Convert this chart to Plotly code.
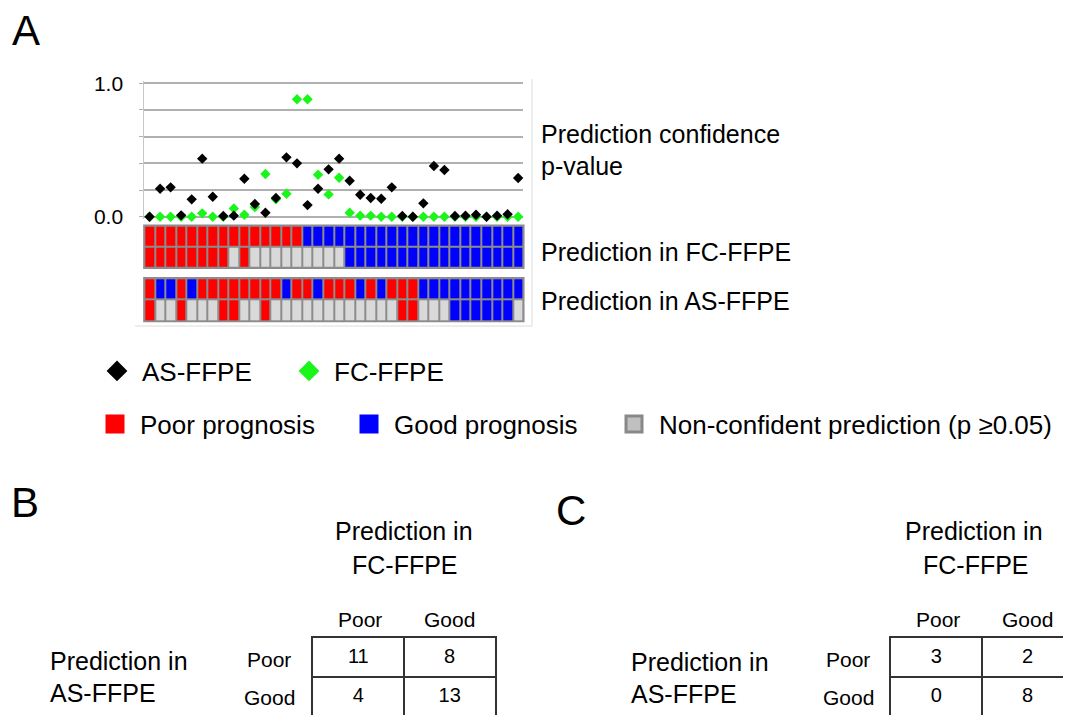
import plotly.graph_objects as go

W, H = 1071, 715
OFF = 8  # page body margin: figure is drawn 8 px right/down of the page origin
def fx(px): return (px - OFF) / W
def fy(py): return 1 - (py - OFF) / H

FONT = "Arial, Liberation Sans, sans-serif"

# ---------------- data ----------------
samples = list(range(36))
as_pvalue = [0.00, 0.21, 0.22, 0.01, 0.13, 0.435, 0.15, 0.005, 0.008, 0.285, 0.095, 0.03,
             0.14, 0.445, 0.40, 0.087, 0.21, 0.355, 0.435, 0.27, 0.165, 0.14, 0.135, 0.22,
             0.005, 0.0, 0.10, 0.38, 0.35, 0.005, 0.008, 0.015, 0.0, 0.008, 0.018, 0.29]
fc_pvalue = [0.0, 0.0, 0.0, 0.0, 0.0, 0.025, 0.0, 0.0, 0.062, 0.015, 0.072, 0.32,
             0.13, 0.172, 0.88, 0.88, 0.315, 0.167, 0.292, 0.03, 0.008, 0.008, 0.0, 0.0,
             0.0, 0.0, 0.0, 0.0, 0.0, 0.0, 0.0, 0.0, 0.0, 0.0, 0.0, 0.0]

# P = poor prognosis, G = good prognosis, N = non-confident
fc_class = list("PPPPPPPPPPPPPPP" + "GGGGGGGGGGGGGGGGGGGGG")
fc_confident = list("PPPPPPPP" + "N" + "P" + "NNNNNNNNN" + "GGGGGGGGGGGGGGGGG")
as_class = list("PGGPGPPPPPPPPGPPGPPPGPGPPP" + "GGGGGGGGGG")
as_confident = list("PNNPNNNPPNNP" + "NNNNNNNNNNNN" + "PPNNN" + "GGGGGG" + "N")

yticks = [0.0, 0.2, 0.4, 0.6, 0.8, 1.0]
ytick_text = ["0.0", "", "", "", "", "1.0"]

table_cols = ["Poor", "Good"]
table_rows = ["Poor", "Good"]
table_b = [[11, 8], [4, 13]]
table_c = [[3, 2], [0, 8]]

code = {"N": 0, "P": 1, "G": 2}
colorscale = [[0, "#d9d9d9"], [0.3333, "#d9d9d9"], [0.3333, "#ff0000"], [0.6667, "#ff0000"],
              [0.6667, "#0000ff"], [1, "#0000ff"]]
GREEN = "#1af51a"

fig = go.Figure()

# ---------------- panel A scatter ----------------
fig.add_trace(go.Scatter(x=samples, y=fc_pvalue, mode="markers", cliponaxis=False,
                         marker=dict(symbol="diamond", size=8, color=GREEN),
                         showlegend=False, xaxis="x", yaxis="y"))
fig.add_trace(go.Scatter(x=samples, y=as_pvalue, mode="markers", cliponaxis=False,
                         marker=dict(symbol="diamond", size=8, color="#000000"),
                         showlegend=False, xaxis="x", yaxis="y"))

# ---------------- panel A heatmaps ----------------
def hm(rows, yaxis):
    z = [[code[c] for c in r] for r in rows]
    return go.Heatmap(x=samples, y=[0, 1], z=z, zmin=0, zmax=2, colorscale=colorscale,
                      showscale=False, xgap=2, ygap=2, xaxis="x2", yaxis=yaxis,
                      hoverinfo="skip")

fig.add_trace(hm([fc_class, fc_confident], "y2"))
fig.add_trace(hm([as_class, as_confident], "y3"))

# ---------------- legend entries ----------------
fig.add_trace(go.Scatter(x=[None], y=[None], mode="markers", name="AS-FFPE",
                         marker=dict(symbol="diamond", size=16, color="#000000"),
                         legend="legend", legendwidth=137))
fig.add_trace(go.Scatter(x=[None], y=[None], mode="markers", name="FC-FFPE",
                         marker=dict(symbol="diamond", size=16, color=GREEN),
                         legend="legend"))
fig.add_trace(go.Scatter(x=[None], y=[None], mode="markers", name="Poor prognosis",
                         marker=dict(symbol="square", size=16, color="#ff0000",
                                     line=dict(color="#ff0000", width=3)),
                         legend="legend2", legendwidth=199))
fig.add_trace(go.Scatter(x=[None], y=[None], mode="markers", name="Good prognosis",
                         marker=dict(symbol="square", size=16, color="#0000ff",
                                     line=dict(color="#0000ff", width=3)),
                         legend="legend2", legendwidth=210))
fig.add_trace(go.Scatter(x=[None], y=[None], mode="markers",
                         name="Non-confident prediction (p \u22650.05)",
                         marker=dict(symbol="square", size=16, color="#c0c0c0",
                                     line=dict(color="#888888", width=3)),
                         legend="legend2"))

# ---------------- tables ----------------
def table_trace(vals, xa, ya):
    xs, ys, ts = [], [], []
    for ri, row in enumerate(vals):
        for ci, v in enumerate(row):
            xs.append(ci + 0.5)
            ys.append(1.5 - ri)
            ts.append(str(v))
    return go.Scatter(x=xs, y=ys, text=ts, mode="text", showlegend=False,
                      textfont=dict(size=20, color="#000000", family=FONT),
                      xaxis=xa, yaxis=ya, cliponaxis=False)

fig.add_trace(table_trace(table_b, "x4", "y4"))
fig.add_trace(table_trace(table_c, "x5", "y5"))

hidden = dict(showgrid=False, zeroline=False, showticklabels=False, ticks="", showline=False)
cw = 91.3     # table cell width (px)
rh = 39.0     # table row height (px)
tb_top = 638.3
tbl_axis = dict(tickvals=[0, 1, 2], showgrid=True, gridcolor="#333333", gridwidth=1.5,
                zeroline=False, showticklabels=False, ticks="",
                showline=True, mirror=True, linecolor="#333333", linewidth=1.5)
bx0, cx0 = 312.7, 890.7
page_bottom = H + OFF
page_right = W + OFF
ppu = 133.4   # px per unit on the p-value axis
ypad = 2.5 / ppu

layout = dict(
    width=W, height=H, margin=dict(l=0, r=0, t=0, b=0, autoexpand=False),
    paper_bgcolor="white", plot_bgcolor="rgba(0,0,0,0)",
    font=dict(family=FONT, color="#000000"),
    xaxis=dict(domain=[fx(144.3), fx(523.4)], range=[-0.5, 35.5], anchor="y", **hidden),
    yaxis=dict(domain=[fy(216.7 + 2.5), fy(83.3 - 2.5)], range=[-ypad, 1 + ypad], anchor="x",
               tickvals=yticks, ticktext=ytick_text, tickfont=dict(size=21),
               showgrid=True, gridcolor="#b0b0b0", gridwidth=1.5, zeroline=False,
               showline=True, linecolor="#c8c8c8", linewidth=1,
               ticks="outside", ticklen=4, tickcolor="#b0b0b0", ticklabelstandoff=12),
    xaxis2=dict(domain=[fx(144.3), fx(523.4)], range=[-0.5, 35.5], anchor="y2", **hidden),
    yaxis2=dict(domain=[fy(267.7), fy(225.7)], range=[1.5, -0.5], anchor="x2", **hidden),
    yaxis3=dict(domain=[fy(321.0), fy(278.3)], range=[1.5, -0.5], anchor="x2", **hidden),
    xaxis4=dict(domain=[fx(bx0), fx(bx0 + 2 * cw)], range=[0, 2], anchor="y4", **tbl_axis),
    yaxis4=dict(domain=[0, fy(tb_top)], range=[2 - (page_bottom - tb_top) / rh, 2],
                anchor="x4", **tbl_axis),
    xaxis5=dict(domain=[fx(cx0), 1], range=[0, (page_right - cx0) / cw], anchor="y5", **tbl_axis),
    yaxis5=dict(domain=[0, fy(tb_top)], range=[2 - (page_bottom - tb_top) / rh, 2],
                anchor="x5", **tbl_axis),
    legend=dict(x=fx(92), y=fy(371), xanchor="left", yanchor="middle", orientation="h",
                font=dict(size=26), bgcolor="rgba(0,0,0,0)", itemsizing="trace",
                itemwidth=40, traceorder="normal", borderwidth=0),
    legend2=dict(x=fx(90), y=fy(424), xanchor="left", yanchor="middle", orientation="h",
                 font=dict(size=26), bgcolor="rgba(0,0,0,0)", itemsizing="trace",
                 itemwidth=40, traceorder="normal", borderwidth=0),
)
fig.update_layout(**layout)

# grey cell borders behind the heatmaps
for ya in ["y2", "y3"]:
    fig.add_shape(type="rect", xref="x2 domain", yref=ya + " domain", x0=-0.003, x1=1.003,
                  y0=-0.03, y1=1.03, fillcolor="#8c8c8c", line=dict(width=0), layer="below")

# chart-area frame (right & bottom edges)
fig.add_shape(type="line", xref="paper", yref="paper", x0=fx(532), x1=fx(532), y0=fy(79), y1=fy(326),
              line=dict(color="#dcdcdc", width=1))
fig.add_shape(type="line", xref="paper", yref="paper", x0=fx(135), x1=fx(532), y0=fy(326), y1=fy(326),
              line=dict(color="#dcdcdc", width=1))

def ann(text, x, y, size, xanchor="center"):
    fig.add_annotation(text=text, x=fx(x), y=fy(y), xref="paper", yref="paper",
                       xanchor=xanchor, yanchor="middle", showarrow=False,
                       font=dict(size=size, color="#000000", family=FONT))

# panel letters
ann("A", 26, 30, 42)
ann("B", 25, 502, 42)
ann("C", 571, 510, 42)

# panel A row labels
ann("Prediction confidence", 539, 134, 25, "left")
ann("p-value", 539, 166, 25, "left")
ann("Prediction in FC-FFPE", 539, 252, 25, "left")
ann("Prediction in AS-FFPE", 539, 301, 25, "left")

# panel B
ann("Prediction in", 404, 531, 25)
ann("FC-FFPE", 405, 565, 25)
ann("Prediction in", 48, 661, 25, "left")
ann("AS-FFPE", 48, 693, 25, "left")
for name, cx in zip(table_cols, [360, 449]):
    ann(name, cx, 619, 21)
for name, cy in zip(table_rows, [659, 697]):
    ann(name, 269, cy, 21)

# panel C
ann("Prediction in", 974, 531, 25)
ann("FC-FFPE", 976, 565, 25)
ann("Prediction in", 629, 662, 25, "left")
ann("AS-FFPE", 629, 694, 25, "left")
for name, cx in zip(table_cols, [938, 1027]):
    ann(name, cx, 619, 21)
for name, cy in zip(table_rows, [659, 697]):
    ann(name, 848, cy, 21)

fig.write_html("out.html")
